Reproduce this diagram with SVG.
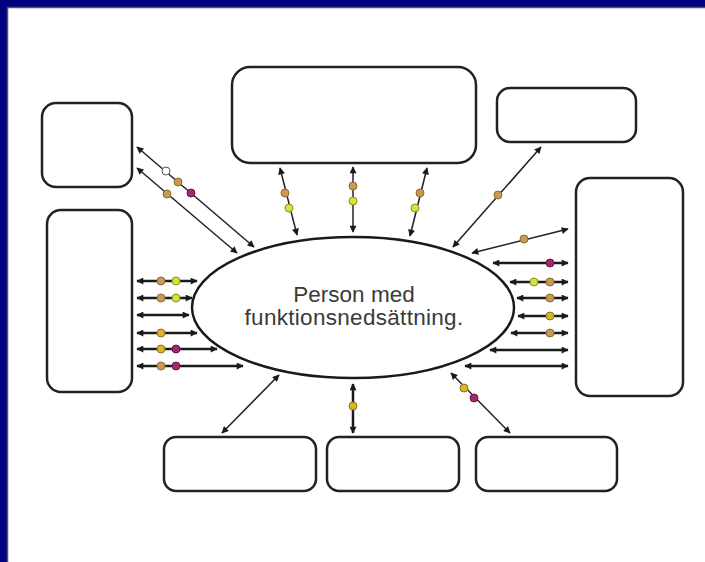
<svg xmlns="http://www.w3.org/2000/svg" width="705" height="562" viewBox="0 0 705 562">
<style>
.box{fill:#fff;stroke:#222;stroke-width:2.5}
.ln{stroke:#222;stroke-width:1.5;fill:none;marker-start:url(#ah);marker-end:url(#ah)}
.th{stroke:#1a1a1a;stroke-width:2.5;fill:none;marker-start:url(#ah);marker-end:url(#ah)}
.tan{fill:#c99b52;stroke:#8a6a30;stroke-width:1}
.yel{fill:#d8e23a;stroke:#8c8c20;stroke-width:1}
.gold{fill:#d8b52a;stroke:#8a7420;stroke-width:1}
.mag{fill:#a3286e;stroke:#6a1848;stroke-width:1}
.wht{fill:#fff;stroke:#555;stroke-width:1}
.lbl{font-family:"Liberation Sans",Arial,sans-serif;font-size:22.5px;fill:#3a3a3a;text-anchor:middle}
</style>
<defs>
<marker id="ah" viewBox="0 0 10 10" refX="9" refY="5" markerWidth="8" markerHeight="7" markerUnits="userSpaceOnUse" orient="auto-start-reverse">
<path d="M0,0 L10,5 L0,10 z" fill="#1a1a1a"/>
</marker>
</defs>
<rect x="0" y="0" width="705" height="562" fill="#fff"/>
<rect x="0" y="0" width="705" height="7" fill="#000080"/>
<rect x="0" y="0" width="7" height="562" fill="#000080"/>
<line x1="7" y1="7.5" x2="705" y2="7.5" stroke="#555" stroke-width="1.5"/>
<line x1="7.5" y1="7" x2="7.5" y2="562" stroke="#555" stroke-width="1.5"/>

<g id="connectors">
<line class="ln" x1="137" y1="147" x2="254" y2="247"/>
<line class="ln" x1="137" y1="168" x2="237" y2="253"/>
<line class="ln" x1="280" y1="168" x2="297" y2="235"/>
<line class="ln" x1="353" y1="167" x2="353" y2="232"/>
<line class="ln" x1="427" y1="168" x2="410" y2="236"/>
<line class="ln" x1="453" y1="247" x2="541" y2="147"/>
<line class="ln" x1="472" y1="253" x2="568" y2="229"/>
<line class="th" x1="137" y1="281" x2="197" y2="281"/>
<line class="th" x1="137" y1="298" x2="192" y2="298"/>
<line class="th" x1="137" y1="315" x2="189" y2="315"/>
<line class="th" x1="137" y1="333" x2="197" y2="333"/>
<line class="th" x1="137" y1="349" x2="217" y2="349"/>
<line class="th" x1="137" y1="366" x2="243" y2="366"/>
<line class="th" x1="493" y1="263" x2="568" y2="263"/>
<line class="th" x1="510" y1="282" x2="568" y2="282"/>
<line class="th" x1="517" y1="298" x2="568" y2="298"/>
<line class="th" x1="518" y1="316" x2="568" y2="316"/>
<line class="th" x1="511" y1="333" x2="568" y2="333"/>
<line class="th" x1="490" y1="350" x2="568" y2="350"/>
<line class="th" x1="465" y1="366" x2="568" y2="366"/>
<line class="ln" x1="279" y1="375" x2="222" y2="433"/>
<line class="th" x1="353" y1="384" x2="353" y2="433"/>
<line class="ln" x1="451" y1="373" x2="510" y2="433"/>

<circle class="wht" cx="166" cy="171" r="4"/>
<circle class="tan" cx="178" cy="182" r="4"/>
<circle class="mag" cx="191" cy="193" r="4"/>
<circle class="tan" cx="167" cy="194" r="4"/>
<circle class="tan" cx="285" cy="193" r="4"/>
<circle class="yel" cx="289" cy="208" r="4"/>
<circle class="tan" cx="353" cy="186" r="4"/>
<circle class="yel" cx="353" cy="201" r="4"/>
<circle class="tan" cx="420" cy="193" r="4"/>
<circle class="yel" cx="415" cy="208" r="4"/>
<circle class="tan" cx="498" cy="195" r="4"/>
<circle class="tan" cx="524" cy="239" r="4"/>
<circle class="tan" cx="161" cy="281" r="4"/>
<circle class="yel" cx="176" cy="281" r="4"/>
<circle class="tan" cx="161" cy="298" r="4"/>
<circle class="yel" cx="176" cy="298" r="4"/>
<circle class="gold" cx="161" cy="333" r="4"/>
<circle class="gold" cx="161" cy="349" r="4"/>
<circle class="mag" cx="176" cy="349" r="4"/>
<circle class="tan" cx="161" cy="366" r="4"/>
<circle class="mag" cx="176" cy="366" r="4"/>
<circle class="mag" cx="550" cy="263" r="4"/>
<circle class="yel" cx="534" cy="282" r="4"/>
<circle class="tan" cx="550" cy="282" r="4"/>
<circle class="tan" cx="550" cy="298" r="4"/>
<circle class="gold" cx="550" cy="316" r="4"/>
<circle class="tan" cx="550" cy="333" r="4"/>
<circle class="gold" cx="353" cy="406" r="4"/>
<circle class="gold" cx="464" cy="388" r="4"/>
<circle class="mag" cx="474" cy="398" r="4"/>
</g>

<g id="center">
<ellipse cx="353" cy="307.5" rx="161" ry="70.5" fill="#fff" stroke="#1a1a1a" stroke-width="2.5"/>
<text class="lbl" x="354" y="302">Person med</text>
<text class="lbl" x="354" y="325" letter-spacing="0.3">funktionsnedsättning.</text>
</g>
<g id="box-top-left"><rect class="box" x="42" y="103" width="90" height="84" rx="14"/></g>
<g id="box-left"><rect class="box" x="47" y="210" width="85" height="182" rx="14"/></g>
<g id="box-top"><rect class="box" x="232" y="67" width="244" height="96" rx="18"/></g>
<g id="box-top-right"><rect class="box" x="497" y="88" width="139" height="54" rx="13"/></g>
<g id="box-right"><rect class="box" x="576" y="178" width="107" height="218" rx="14"/></g>
<g id="box-bottom-left"><rect class="box" x="164" y="437" width="152" height="54" rx="12"/></g>
<g id="box-bottom-mid"><rect class="box" x="327" y="437" width="132" height="54" rx="12"/></g>
<g id="box-bottom-right"><rect class="box" x="476" y="437" width="141" height="54" rx="12"/></g>
</svg>
